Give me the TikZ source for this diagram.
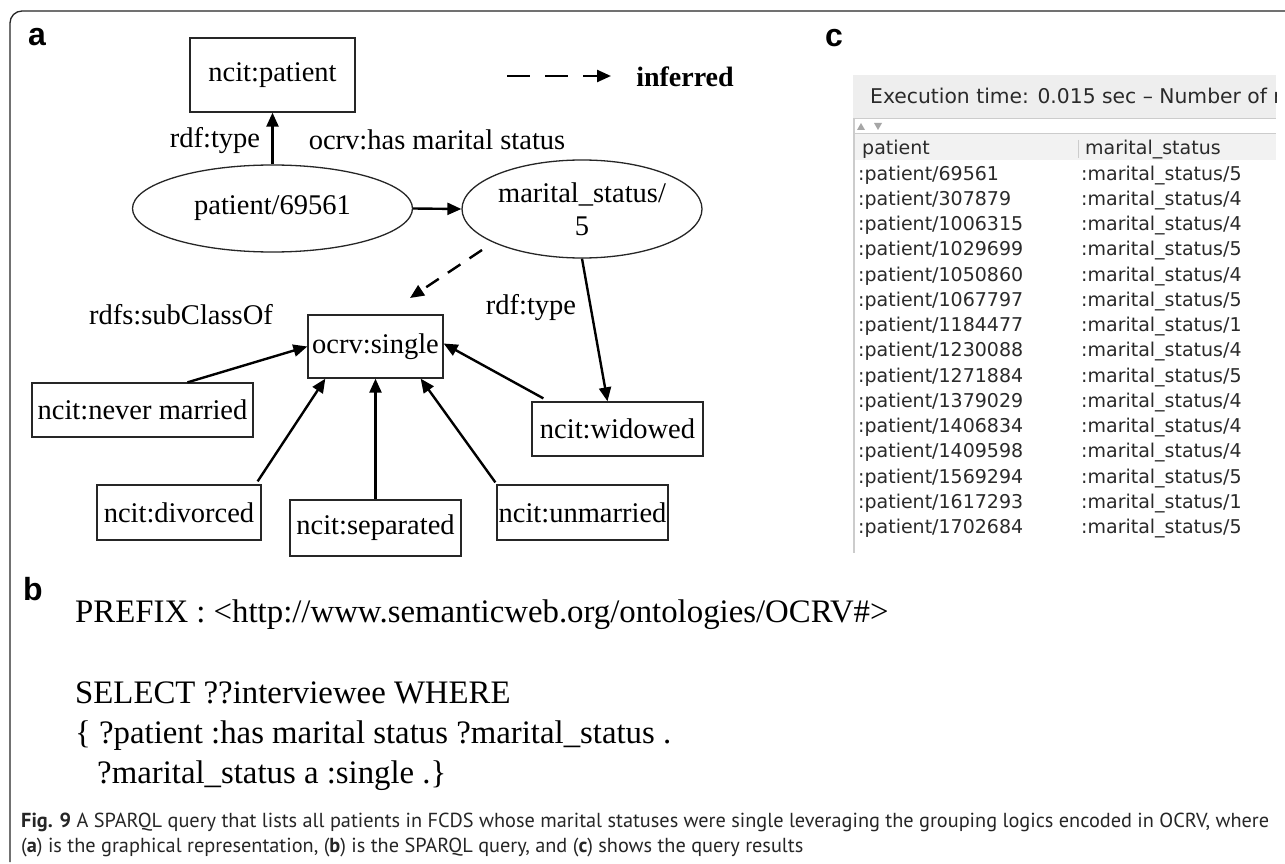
\documentclass[tikz,border=0pt]{standalone}
\usepackage{fontspec}
\setmainfont{Liberation Serif}
\newfontfamily\tblfont{DejaVu Sans}
\newfontfamily\capfont{PT Sans}
\newfontfamily\lblfont{Liberation Sans}
\usetikzlibrary{arrows.meta,calc,shapes.geometric}
\definecolor{tbltext}{HTML}{2A2A2A}
\definecolor{tblhead}{HTML}{EEEEEE}
\definecolor{tblline}{HTML}{CCCCCC}
\begin{document}
\begin{tikzpicture}[x=1pt,y=-1pt,
  dfont/.style={font=\fontsize{28.5}{30}\selectfont},
  cls/.style={draw=black!85, line width=1.3pt, rectangle, inner sep=0pt, dfont},
  inst/.style={draw=black!85, line width=1.3pt, ellipse, inner sep=0pt, dfont, align=center},
  elabel/.style={inner sep=0pt, dfont},
  arr/.style={line width=2.4pt, -{Triangle[length=14pt,width=12pt]}},
  dasharr/.style={line width=2.4pt, dash pattern=on 15pt off 11pt, -{Triangle[length=14pt,width=12pt]}},
  panel/.style={inner sep=0pt, anchor=base west, font=\lblfont\bfseries\fontsize{32}{34}\selectfont},
  query/.style={inner sep=0pt, anchor=base west, font=\fontsize{32.8}{34}\selectfont},
  cell/.style={inner sep=0pt, anchor=base west, text=tbltext, font=\tblfont\fontsize{19}{21}\selectfont},
  caption/.style={inner sep=0pt, anchor=base west, text=black!85, font=\capfont\fontsize{20.3}{22}\selectfont}
]
\useasboundingbox (0,0) rectangle (1285,864);
\fill[white] (0,0) rectangle (1285,864);

% outer frame (open to the right and bottom)
\draw[line width=1.3pt, black!85, rounded corners=12pt] (1285,11) -- (10,11) -- (10,862);

% ---------------- panel a: graph ----------------
\node[panel] (la) at (28,46) {a};

\node[cls, minimum width=165pt, minimum height=74pt] (ncitpatient) at (272.5,75) {ncit:patient};
\node[inst, minimum width=280pt, minimum height=87pt] (patient) at (272.5,208.5) {patient/69561};
\node[inst, minimum width=240pt, minimum height=98pt] (marital) at (582,209) {marital\_status/\\[3pt]5};

\node[cls, minimum width=135pt, minimum height=63pt] (single) at (375.5,346.5) {ocrv:single};
\node[cls, minimum width=221pt, minimum height=54pt] (never) at (142.5,410) {ncit:never married};
\node[cls, minimum width=171pt, minimum height=54pt] (widowed) at (617.5,429) {ncit:widowed};
\node[cls, minimum width=164pt, minimum height=55pt] (divorced) at (179,512.5) {ncit:divorced};
\node[cls, minimum width=171pt, minimum height=56pt] (separated) at (375.5,528) {ncit:separated};
\node[cls, minimum width=171pt, minimum height=55pt] (unmarried) at (582.5,512.5) {ncit:unmarried};

% edge labels
\node[elabel] (ltype1) at (215,141) {rdf:type};
\node[elabel] (lhas) at (437,140) {ocrv:has marital status};
\node[elabel] (ltype2) at (531,308) {rdf:type};
\node[elabel] (lsub) at (181,315) {rdfs:subClassOf};

% legend
\coordinate (legA) at (507,76);
\coordinate (legB) at (611,76);
\node[inner sep=0pt, font=\bfseries\fontsize{28}{30}\selectfont] (inferred) at (685,77) {inferred};
\draw[line width=2.4pt, dash pattern=on 23pt off 15pt, -{Triangle[length=14pt,width=12pt]}] (legA) -- (legB);

% edges
\draw[arr] (patient.north) -- (ncitpatient.south);
\draw[arr] (patient.east) -- (marital.west);
\draw[arr] (marital.south) -- ([xshift=-10pt]widowed.north);
\coordinate (infA) at (482,250);
\coordinate (infB) at (410,298);
\draw[dasharr] (infA) -- (infB);
\draw[arr] ([xshift=45pt]never.north) -- (single.west);
\draw[arr] ([xshift=-4pt,yshift=3pt]divorced.north east) -- ([xshift=18pt]single.south west);
\draw[arr] (separated.north) -- (single.south);
\draw[arr] ([xshift=-1pt,yshift=2pt]unmarried.north west) -- ([xshift=-23pt]single.south east);
\draw[arr] ([xshift=12pt,yshift=3pt]widowed.north west) -- ([yshift=3pt]single.east);

% ---------------- panel b: query ----------------
\node[panel] (lb) at (23,600) {b};
\node[query] (q1) at (75,622) {PREFIX : <http://www.semanticweb.org/ontologies/OCRV\#>};
\node[query] (q2) at (75,703) {SELECT ??interviewee WHERE};
\node[query] (q3) at (75,743) {\{ ?patient :has marital status ?marital\_status .};
\node[query] (q4) at (97,783) {?marital\_status a :single .\}};

% ---------------- panel c: results ----------------
\node[panel] (lc) at (825,47) {c};
\fill[tblhead] (853,75) rectangle (1276,118);
\draw[tblline, line width=0.8pt] (853,118) -- (1276,118);
\draw[tblline, line width=0.8pt] (853,133) -- (1276,133);
\fill[black!5] (854,134) rectangle (1276,160);
\draw[tblline, line width=1.6pt] (854,118) -- (854,553);
\draw[tblline, line width=1pt] (1078,140) -- (1078,158);
% sort arrows
\fill[black!35] (857,130) -- (865,130) -- (861,123) -- cycle;
\fill[black!35] (874,123) -- (882,123) -- (878,130) -- cycle;
\begin{scope}
\clip (853,75) rectangle (1276,120);
\node[cell, font=\tblfont\fontsize{20.3}{23}\selectfont] (exec) at (870,104) {Execution time: 0.015 sec – Number of r};
\end{scope}
\node[cell] (hp) at (862,154) {patient};
\node[cell] (hs) at (1085,154) {marital\_status};

\foreach \p/\s [count=\i from 0] in {69561/5,307879/4,1006315/4,1029699/5,1050860/4,1067797/5,1184477/1,1230088/4,1271884/5,1379029/4,1406834/4,1409598/4,1569294/5,1617293/1,1702684/5}{
  \node[cell] (p\i) at (858,180+25.25*\i) {:patient/\p};
  \node[cell] (s\i) at (1081,180+25.25*\i) {:marital\_status/\s};
}

% ---------------- caption ----------------
\node[caption] (cap1) at (21,827) {\textbf{Fig. 9} A SPARQL query that lists all patients in FCDS whose marital statuses were single leveraging the grouping logics encoded in OCRV, where};
\node[caption] (cap2) at (21,852) {(\textbf{a}) is the graphical representation, (\textbf{b}) is the SPARQL query, and (\textbf{c}) shows the query results};
\end{tikzpicture}
\end{document}
